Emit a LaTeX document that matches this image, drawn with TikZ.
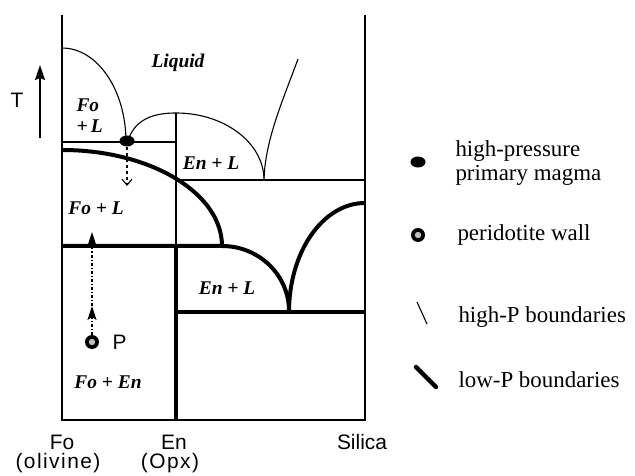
\documentclass[tikz,border=0pt]{standalone}
\usepackage{fontspec}
\setmainfont{Liberation Serif}
\setsansfont{Liberation Sans}
\usetikzlibrary{shapes, arrows.meta, positioning, calc}

\begin{document}
\begin{tikzpicture}[x=1bp, y=-1bp,
  thinb/.style={line width=1.1bp},
  lowP/.style={line width=4bp},
  axis/.style={line width=2.3bp},
  region/.style={font=\fontsize{19.5}{21}\selectfont\bfseries\itshape},
  axlbl/.style={font=\sffamily\fontsize{21}{23}\selectfont},
  mineral/.style={font=\sffamily\fontsize{21}{23}\selectfont\addfontfeature{LetterSpace=7}},
  legtxt/.style={font=\fontsize{23}{24}\selectfont, anchor=west, align=left},
  magma/.style={ellipse, fill=black, inner sep=0pt, minimum width=15bp, minimum height=11bp},
  wall/.style={circle, fill=black, inner sep=0pt, minimum size=14bp,
    path picture={\fill[gray!50] (path picture bounding box.center) circle (3.2bp);}},
  pathtip/.style={-{Stealth[length=14bp, width=9bp, inset=3bp]}}]
\useasboundingbox (0,0) rectangle (635,476);

% frame: Fo and Silica axes, En join
\coordinate (foTop) at (62,15);
\coordinate (foBot) at (62,420);
\coordinate (siTop) at (365,15);
\coordinate (siBot) at (365,420);
\coordinate (enTop) at (176,113);
\coordinate (enMid) at (176,246);
\coordinate (enBot) at (176,420);
\draw[axis] (foTop) -- (foBot) -- (siBot) -- (siTop);

% high-P boundaries (thin)
\draw[thinb] (62,48) arc[start angle=90, end angle=0, x radius=64bp, y radius=94bp];
\draw[thinb] (128,140) .. controls (136,118) and (155,113) .. (enTop)
  arc[start angle=90, end angle=0, x radius=88bp, y radius=67bp];
\draw[thinb] (264,180) .. controls (265,140) and (283,100) .. (298,59);
\draw[thinb] (62,142) -- (176,142);
\draw[thinb] (176,180) -- (366,180);
\draw[thinb] (enTop) -- (enMid);

% low-P boundaries (thick)
\draw[lowP] (62,150) arc[start angle=90, end angle=0, x radius=160bp, y radius=96bp];
\draw[lowP] (62,246) -- (222,246)
  arc[start angle=90, end angle=0, x radius=67bp, y radius=65bp];
\draw[lowP] (289,312) arc[start angle=180, end angle=90, x radius=76bp, y radius=109bp];
\draw[lowP] (176,312) -- (365,312);
\draw[lowP] (enMid) -- (enBot);

% primary magma and its path
\node[magma] (eut) at (127,141) {};
\coordinate (eutDown) at (127,186);
\draw[thinb, dashed, -{Straight Barb[length=6bp, width=10bp]}] (eut.south) -- (eutDown);

% peridotite wall and its path
\node[wall] (perP) at (92,342) {};
\node[axlbl, anchor=west] (pLabel) at (109,342) {P};
\coordinate (perMid) at (92,306);
\coordinate (perTop) at (92,232);
\draw[thinb, dash dot, pathtip] (perP.north) -- (perMid);
\draw[thinb, dash dot, pathtip] (perMid) -- (perTop);

% temperature arrow
\coordinate (tLow) at (40,138);
\coordinate (tHigh) at (40,65);
\draw[line width=1.8bp, -{Stealth[length=15bp, width=10bp, inset=2bp]}] (tLow) -- (tHigh);
\node[axlbl] (tLabel) at (17,100) {T};

% fields
\node[region] (liq) at (178,63) {Liquid};
\node[region, align=left, anchor=west] (foL1) at (73,116) {Fo\\+\,L};
\node[region] (enL1) at (211,163) {En + L};
\node[region] (foL2) at (96,208) {Fo + L};
\node[region] (enL2) at (227,288) {En + L};
\node[region] (foEn) at (108,382) {Fo + En};

% compositions
\node[axlbl] (foName) at (62,442) {Fo};
\node[mineral] (foMin) at (58,463) {(olivine)};
\node[axlbl] (enName) at (174,442) {En};
\node[mineral] (enMin) at (170,463) {(Opx)};
\node[axlbl] (siName) at (362,442) {Silica};

% legend
\node[magma] (legMagma) at (418,162) {};
\node[legtxt] (legMagmaTxt) at (452,163) {high-pressure\\primary magma};
\node[wall] (legWall) at (418,235) {};
\node[legtxt] (legWallTxt) at (454,235) {peridotite wall};
\draw[thinb] (417,302) -- (427,324);
\node[legtxt] (legHighTxt) at (455,317) {high-P boundaries};
\draw[line width=4.5bp, line cap=round] (416,367) -- (436,387);
\node[legtxt] (legLowTxt) at (455,380) {low-P boundaries};
\end{tikzpicture}
\end{document}
